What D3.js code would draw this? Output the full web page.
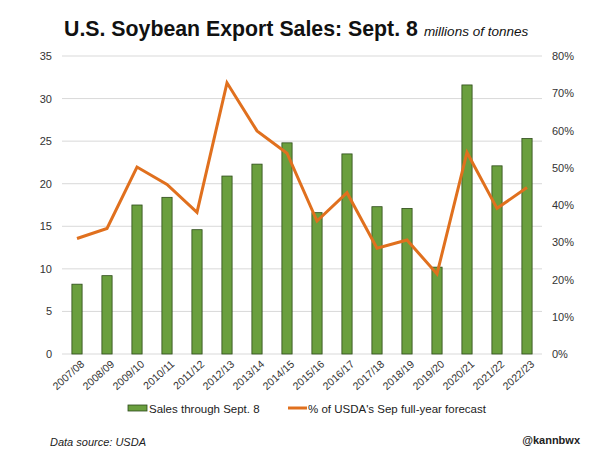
<!DOCTYPE html>
<html>
<head>
<meta charset="utf-8">
<script src="https://cdn.jsdelivr.net/npm/d3@7"></script>
<style>
  body { margin: 0; background: #fff; }
  svg { font-family: "Liberation Sans", Arial, sans-serif; }
  .grid line { stroke: #d9d9d9; stroke-width: 1; }
  .axis text { font-size: 11px; fill: #333; }
  .axis path, .axis line { display: none; }
</style>
</head>
<body>
<svg width="600" height="465"></svg>
<script>
const seasons = ["2007/08", "2008/09", "2009/10", "2010/11", "2011/12", "2012/13", "2013/14", "2014/15",
    "2015/16", "2016/17", "2017/18", "2018/19", "2019/20", "2020/21", "2021/22", "2022/23"];
const sales = [8.2, 9.2, 17.5, 18.4, 14.6, 20.9, 22.3, 24.8, 16.6, 23.5, 17.3, 17.1, 10.2, 31.6, 22.1, 25.3];
const pctForecast = [31.0, 33.7, 50.2, 45.5, 38.0, 72.8, 59.9, 53.9, 35.7, 43.3, 28.4, 30.6, 21.5, 54.1, 39.1, 44.7];
const leftTicks = [0, 5, 10, 15, 20, 25, 30, 35];
const rightTicks = [0, 10, 20, 30, 40, 50, 60, 70, 80];

const svg = d3.select("svg");
const margin = { top: 56, right: 58, bottom: 111, left: 62 };
const width = 600 - margin.left - margin.right;
const height = 465 - margin.top - margin.bottom;

const g = svg.append("g").attr("transform", `translate(${margin.left},${margin.top})`);

const x = d3.scaleBand().domain(seasons).range([0, width]).paddingInner(0.66).paddingOuter(0.33);
const yL = d3.scaleLinear().domain([0, 35]).range([height, 0]);
const yR = d3.scaleLinear().domain([0, 80]).range([height, 0]);

// grid
g.append("g").attr("class", "grid")
    .selectAll("line")
    .data(leftTicks)
    .join("line")
    .attr("x1", 0).attr("x2", width)
    .attr("y1", d => yL(d)).attr("y2", d => yL(d));

// axes
g.append("g").attr("class", "axis")
    .call(d3.axisLeft(yL).tickValues(leftTicks).tickSize(0).tickPadding(10));

g.append("g").attr("class", "axis")
    .attr("transform", `translate(${width},0)`)
    .call(d3.axisRight(yR).tickValues(rightTicks).tickSize(0).tickPadding(10).tickFormat(d => d + "%"))
    .selectAll("text").style("text-anchor", "start");

const xAxis = g.append("g").attr("class", "axis")
    .attr("transform", `translate(0,${height})`)
    .call(d3.axisBottom(x).tickSize(0).tickPadding(0));
xAxis.selectAll("text")
    .style("font-size", "10.5px")
    .style("text-anchor", "end")
    .attr("dy", "0")
    .attr("transform", "translate(8,11) rotate(-42)");

// bars
g.append("g")
    .selectAll("rect")
    .data(seasons)
    .join("rect")
    .attr("x", d => x(d))
    .attr("width", x.bandwidth())
    .attr("y", (d, i) => yL(sales[i]))
    .attr("height", (d, i) => height - yL(sales[i]))
    .attr("fill", "#6a9f3e")
    .attr("stroke", "#2c4a19")
    .attr("stroke-width", 0.8);

// line
const line = d3.line()
    .x(d => x(d.s) + x.bandwidth() / 2)
    .y(d => yR(d.v));

g.append("path")
    .datum(seasons.map((s, i) => ({ s, v: pctForecast[i] })))
    .attr("d", line)
    .attr("fill", "none")
    .attr("stroke", "#e0701e")
    .attr("stroke-width", 3)
    .attr("stroke-linejoin", "miter");

// title
const title = svg.append("text").attr("x", 64).attr("y", 36);
title.append("tspan").attr("font-size", "21.3px").attr("font-weight", "bold").attr("fill", "#111")
    .text("U.S. Soybean Export Sales: Sept. 8");
title.append("tspan").attr("font-size", "13.5px").attr("font-style", "italic").attr("fill", "#111")
    .attr("dx", 6).text("millions of tonnes");

// legend
const leg = svg.append("g").attr("transform", "translate(0,408)");
leg.append("rect").attr("x", 128).attr("y", -3).attr("width", 19).attr("height", 6)
    .attr("fill", "#6a9f3e").attr("stroke", "#2c4a19").attr("stroke-width", 0.8);
leg.append("text").attr("x", 149).attr("y", 4.5).attr("font-size", "11.5px").attr("fill", "#222")
    .text("Sales through Sept. 8");
leg.append("line").attr("x1", 288).attr("x2", 307).attr("y1", 0).attr("y2", 0)
    .attr("stroke", "#e0701e").attr("stroke-width", 3);
leg.append("text").attr("x", 308).attr("y", 4.5).attr("font-size", "11.5px").attr("fill", "#222")
    .text("% of USDA's Sep full-year forecast");

// footer
svg.append("text").attr("x", 50).attr("y", 446).attr("font-size", "11px").attr("font-style", "italic")
    .attr("fill", "#222").text("Data source: USDA");
svg.append("text").attr("x", 580).attr("y", 444).attr("font-size", "11px").attr("font-weight", "bold")
    .attr("text-anchor", "end").attr("fill", "#222").text("@kannbwx");
</script>
</body>
</html>
